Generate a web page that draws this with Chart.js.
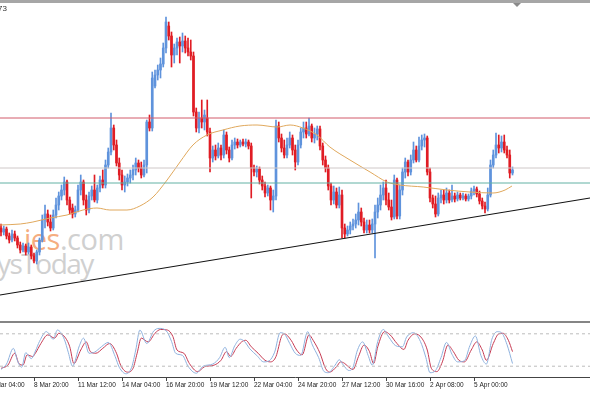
<!DOCTYPE html>
<html>
<head>
<meta charset="utf-8">
<script src="https://cdn.jsdelivr.net/npm/chart.js@4.4.1/dist/chart.umd.min.js"></script>
<style>
  body { margin: 0; background: #fff; width: 590px; height: 393px; overflow: hidden; position: relative; }
  canvas { position: absolute; left: 0; display: block; z-index: 1; }
  #price { top: 0; }
  #stoch { top: 323px; }
  .frame-top { position: absolute; left: 0; top: 0; width: 590px; height: 3px; background: #a6a6a6; z-index: 3; }
  .separator { position: absolute; left: 0; top: 321px; width: 590px; height: 2px; background: #858585; z-index: 3; }
  .shift-mark { position: absolute; left: 513px; top: 3px; width: 0; height: 0; border-left: 4px solid transparent; border-right: 4px solid transparent; border-top: 4px solid #8a8a8a; z-index: 3; }
  .corner { position: absolute; left: -2px; top: 4px; font: 8px "Liberation Sans", sans-serif; color: #333; z-index: 3; }
  .mark { position: absolute; font-family: "Open Sans", Lato, sans-serif; font-weight: 400; font-size: 29px; line-height: 1; color: #d0d0d0; white-space: nowrap; letter-spacing: -0.5px; z-index: 0; }
  .mark .orange { color: #f5ad80; }
  .mark.second { font-size: 28px; letter-spacing: -1.5px; }
</style>
</head>
<body>
<div class="frame-top"></div>
<div class="shift-mark"></div>
<div class="corner">73</div>
<div class="mark" style="left:24px; top:224px;"><span class="orange">ies</span>.com</div>
<div class="mark second" style="left:-3px; top:249px;">ysToday</div>
<canvas id="price" width="590" height="321"></canvas>
<div class="separator"></div>
<canvas id="stoch" width="590" height="70"></canvas>
<script>
"use strict";

// H4 candles, one entry per bar (bar index = position in the array)
const openPrices = [
  1492,1488,1491,1484,1480,1486,1482,1475,1470,1474,
  1468,1473,1464,1459,1468,1480,1500,1506,1498,1492,
  1505,1515,1524,1530,1538,1520,1512,1506,1510,1530,
  1538,1520,1510,1524,1530,1520,1532,1540,1535,1555,
  1568,1592,1575,1557,1545,1535,1538,1542,1545,1550,
  1557,1552,1545,1555,1598,1592,1634,1645,1650,1656,
  1672,1694,1684,1665,1672,1678,1674,1679,1672,1668,
  1664,1608,1592,1602,1598,1602,1588,1562,1570,1564,
  1572,1565,1585,1570,1562,1575,1578,1575,1578,1576,
  1578,1574,1552,1548,1551,1540,1534,1527,1532,1520,
  1524,1594,1582,1572,1565,1575,1582,1570,1558,1575,
  1588,1592,1586,1594,1582,1586,1591,1574,1560,1552,
  1534,1520,1528,1515,1525,1492,1486,1490,1494,1496,
  1500,1508,1498,1490,1495,1490,1496,1508,1515,1525,
  1532,1520,1513,1503,1540,1504,1530,1548,1558,1548,
  1560,1570,1560,1574,1580,1582,1548,1522,1516,1506,
  1522,1525,1520,1527,1520,1524,1521,1525,1522,1524,
  1521,1524,1529,1531,1526,1519,1514,1511,1525,1555,
  1565,1575,1572,1578,1570,1565,1547
];
const highPrices = [
  1496,1494,1493,1487,1490,1489,1484,1478,1477,1476,
  1477,1475,1467,1470,1482,1505,1515,1510,1505,1510,
  1522,1528,1535,1543,1540,1523,1516,1514,1535,1545,
  1540,1525,1528,1534,1545,1535,1544,1550,1560,1572,
  1607,1595,1580,1562,1550,1544,1546,1550,1555,1562,
  1560,1558,1560,1600,1605,1648,1650,1655,1662,1677,
  1703,1698,1688,1676,1682,1683,1687,1684,1682,1680,
  1668,1612,1608,1620,1610,1620,1592,1574,1575,1577,
  1575,1590,1588,1573,1580,1582,1581,1580,1581,1581,
  1580,1577,1555,1554,1553,1544,1538,1535,1534,1530,
  1600,1598,1586,1580,1582,1588,1585,1575,1580,1592,
  1598,1598,1602,1596,1592,1594,1594,1577,1564,1555,
  1537,1534,1532,1533,1530,1496,1494,1498,1501,1506,
  1517,1512,1502,1500,1500,1501,1515,1522,1535,1538,
  1540,1527,1520,1545,1542,1535,1552,1562,1560,1565,
  1578,1574,1583,1585,1586,1584,1552,1525,1524,1527,
  1530,1530,1532,1530,1535,1527,1528,1527,1527,1526,
  1526,1532,1534,1533,1529,1522,1518,1532,1560,1570,
  1587,1585,1584,1585,1574,1570,1553
];
const lowPrices = [
  1484,1485,1481,1477,1478,1479,1472,1467,1468,1465,
  1466,1461,1457,1456,1465,1478,1492,1494,1489,1490,
  1502,1510,1520,1525,1515,1506,1502,1503,1508,1525,
  1515,1505,1507,1520,1518,1517,1528,1532,1532,1552,
  1565,1570,1554,1540,1530,1528,1534,1537,1540,1545,
  1548,1542,1543,1547,1589,1589,1632,1640,1642,1653,
  1667,1680,1653,1657,1665,1657,1668,1667,1664,1660,
  1604,1588,1587,1592,1590,1584,1548,1558,1560,1562,
  1560,1562,1566,1558,1560,1571,1572,1573,1574,1573,
  1571,1522,1544,1543,1536,1530,1523,1524,1510,1508,
  1520,1578,1568,1562,1562,1572,1565,1550,1555,1572,
  1582,1582,1584,1578,1577,1580,1570,1555,1548,1530,
  1515,1516,1512,1512,1482,1482,1484,1486,1490,1492,
  1495,1494,1487,1487,1487,1487,1462,1502,1510,1520,
  1515,1510,1500,1501,1501,1501,1525,1542,1544,1545,
  1557,1558,1558,1570,1573,1545,1518,1512,1503,1504,
  1517,1516,1517,1517,1518,1518,1519,1520,1520,1519,
  1519,1521,1525,1523,1516,1511,1507,1509,1523,1552,
  1562,1567,1568,1567,1562,1542,1545
];
const closePrices = [
  1488,1491,1484,1480,1486,1482,1475,1470,1474,1468,
  1473,1464,1459,1468,1480,1500,1506,1498,1492,1505,
  1515,1524,1530,1538,1520,1510,1506,1510,1530,1538,
  1520,1510,1524,1530,1520,1532,1540,1535,1555,1568,
  1592,1575,1557,1545,1535,1538,1542,1545,1550,1557,
  1552,1545,1555,1598,1592,1642,1645,1650,1656,1672,
  1698,1684,1665,1672,1678,1674,1679,1672,1668,1664,
  1608,1592,1602,1598,1605,1588,1562,1570,1564,1572,
  1565,1585,1570,1562,1575,1578,1575,1578,1576,1578,
  1574,1552,1548,1551,1540,1534,1527,1532,1520,1524,
  1594,1582,1572,1565,1575,1582,1570,1558,1575,1588,
  1592,1586,1594,1582,1586,1591,1574,1560,1552,1534,
  1520,1528,1515,1525,1492,1486,1490,1494,1496,1500,
  1508,1498,1490,1495,1490,1496,1508,1515,1525,1532,
  1520,1513,1503,1540,1504,1530,1548,1558,1548,1560,
  1570,1560,1574,1580,1582,1548,1522,1516,1506,1522,
  1525,1520,1527,1520,1524,1521,1525,1522,1524,1521,
  1524,1529,1531,1526,1519,1514,1511,1525,1555,1565,
  1575,1572,1578,1570,1565,1547,1550
];

// moving average, read at points along the curve
const maBars   = [-0.4, 7, 11.6, 17.8, 24, 29.8, 34.9, 39.6, 45.8, 50.5, 55.3, 60.4, 65.1, 69.8, 74.9, 80.7, 86.9, 93.1, 100.4, 105.1, 109.8, 114.9, 119.6, 126.9, 134.2, 140.4, 145.1, 153.5, 162.2, 170.5, 178.9, 183.3, 185.8];
const maPrices = [1495, 1496, 1498, 1502, 1505, 1510, 1512, 1510, 1510, 1514, 1523, 1540, 1558, 1575, 1585, 1590, 1594, 1595, 1593, 1595, 1592, 1585, 1573, 1560, 1548, 1538, 1535, 1533, 1530, 1528, 1527, 1530, 1534];

// horizontal levels and support trendline
const levelPrices = [1602, 1552, 1537];
const trendBars = [-0.4, 214.2];
const trendPrices = [1425, 1522];

// stochastic oscillator
const kBars   = [0,2,4.5,6,7.5,9,11,12.5,14,16.5,19,20.5,23,24.5,26,28.5,30,32,34,36.5,39,41.5,43,45.5,47.5,49,50.5,53,55.5,57.5,60,62,63.5,66,68,71,73.5,77,79.5,81.5,83,85,87,88.5,90.5,93,95.5,97.5,99.5,101.5,103,105,107,109,111.5,113,115.5,117.5,119,121.5,123,124.5,126.5,128,129.5,131.5,133.5,135,137,139,141,143.5,146,147.5,150,152.5,154.5,156,158,160,162,164,166,168.5,170.5,172.5,174.5,176.5,178.5,180.5,182,184,186];
const kValues = [14,24,53,30,18,45,34,48,66,84,70,87,70,45,20,58,72,44,46,56,64,38,18,6,18,50,87,62,85,90,86,66,44,40,20,7,20,24,36,55,36,58,70,66,52,40,28,30,46,82,80,62,44,40,84,62,36,10,8,22,32,22,12,18,48,65,40,22,66,88,74,58,56,74,82,66,36,8,12,36,64,42,28,30,58,76,40,24,70,84,82,60,25];
const dBars   = [0,2.5,5,6.5,8,9.5,11.5,12.5,14.5,17,19.5,21,23.5,25,26.5,29,31,32.5,34.5,37,39.5,42,43.5,46,48,49.5,51,53.5,56,58,60.5,62.5,64,66.5,68.5,71.5,74,77.5,80,82,83.5,85.5,87.5,89,91,93.5,96,98,100,102,103,105.5,107.5,109.5,112,113.5,116,118,119.5,122,123.5,125,127,128,130,132,134,135.5,137,139.5,141.5,144,146.5,148,150.5,153,155,156.5,158.5,160.5,162.5,164.5,166.5,168.5,171,173,175,176.5,179,181,182.5,184.5,186];
const dValues = [16,22,44,25,22,41,38,44,62,78,72,81,72,56,25,50,65,47,44,53,62,44,22,9,16,44,72,65,81,88,87,75,50,44,25,10,19,22,31,47,38,53,65,68,56,44,31,28,38,75,80,68,50,41,78,68,44,16,9,19,28,25,16,14,38,59,47,25,56,84,78,62,51,68,80,72,50,16,10,28,59,47,31,28,50,65,50,31,62,80,81,68,47];
const stochLevels = [80, 20];

// time axis labels, one every 16 bars
const tickBars = [-4, 12, 28, 44, 60, 76, 92, 108, 124, 140, 156, 172];
const tickLabels = ["6 Mar 04:00", "8 Mar 20:00", "11 Mar 12:00", "14 Mar 04:00", "16 Mar 20:00", "19 Mar 12:00",
                    "22 Mar 04:00", "24 Mar 20:00", "27 Mar 12:00", "30 Mar 16:00", "2 Apr 08:00", "5 Apr 00:00"];

const xMin = -0.364;
const xMax = 214.18;
const upColor = "#5f93dc";
const downColor = "#e01c24";
const levelColors = ["#d25a6a", "#cfc8c8", "#62b1a4"];

const bars = closePrices.map((c, i) => i);
const candleColor = ctx => closePrices[ctx.dataIndex] >= openPrices[ctx.dataIndex] ? upColor : downColor;
const pairs = (xs, ys) => xs.map((x, i) => ({ x: x, y: ys[i] }));
const flatLine = (value) => [{ x: xMin, y: value }, { x: xMax, y: value }];

let priceDatasets = levelPrices.map((p, i) => ({
    type: "line", data: flatLine(p), borderColor: levelColors[i], borderWidth: 1, pointRadius: 0, order: 1
}));
priceDatasets.push({
    type: "line", data: pairs(trendBars, trendPrices), borderColor: "#111", borderWidth: 1.2, pointRadius: 0, order: 1
});
priceDatasets.push({
    type: "line", data: pairs(maBars, maPrices), borderColor: "#e0a85c", borderWidth: 1,
    pointRadius: 0, cubicInterpolationMode: "monotone", order: 2
});
priceDatasets.push({
    type: "bar", data: bars.map(i => ({ x: i, y: [lowPrices[i], highPrices[i]] })),
    backgroundColor: candleColor, barThickness: 1, grouped: false, borderWidth: 0, order: 4
});
priceDatasets.push({
    type: "bar", data: bars.map(i => ({ x: i, y: [openPrices[i], closePrices[i]] })),
    backgroundColor: candleColor, barThickness: 2, minBarLength: 1, grouped: false, borderWidth: 0, order: 3
});

Chart.defaults.font.family = "'Liberation Sans', Arial, sans-serif";

new Chart(document.getElementById("price"), {
    type: "bar",
    data: { datasets: priceDatasets },
    options: {
        responsive: false,
        animation: false,
        devicePixelRatio: 1,
        layout: { padding: 0 },
        plugins: { legend: { display: false }, tooltip: { enabled: false } },
        scales: {
            x: { type: "linear", min: xMin, max: xMax, offset: false, display: false },
            y: { min: 1399, max: 1720, display: false }
        }
    }
});

let stochDatasets = stochLevels.map(v => ({
    data: flatLine(v), borderColor: "#bdbdbd", borderWidth: 1, borderDash: [3, 3], pointRadius: 0
}));
stochDatasets.push({
    data: pairs(kBars, kValues), borderColor: "#8fb2de", borderWidth: 1, pointRadius: 0, cubicInterpolationMode: "monotone"
});
stochDatasets.push({
    data: pairs(dBars, dValues), borderColor: "#c63a52", borderWidth: 1, pointRadius: 0, cubicInterpolationMode: "monotone"
});

new Chart(document.getElementById("stoch"), {
    type: "line",
    data: { datasets: stochDatasets },
    options: {
        responsive: false,
        animation: false,
        devicePixelRatio: 1,
        layout: { padding: 0 },
        plugins: { legend: { display: false }, tooltip: { enabled: false } },
        scales: {
            x: {
                type: "linear", min: xMin, max: xMax, offset: false,
                afterBuildTicks: axis => { axis.ticks = tickBars.map(v => ({ value: v })); },
                // the first label hangs off the left edge, so keep the plot full width
                afterFit: axis => { axis.height = 16; axis.paddingLeft = 0; axis.paddingRight = 0; },
                grid: { drawOnChartArea: false, drawTicks: true, tickLength: 4, tickColor: "#444" },
                border: { display: true, color: "#444", width: 1 },
                ticks: {
                    autoSkip: false, maxRotation: 0, minRotation: 0, align: "start", padding: 0,
                    color: "#222", font: { size: 6.5 },
                    callback: v => tickLabels[tickBars.indexOf(v)]
                }
            },
            y: { min: 0, max: 100, display: false }
        }
    }
});
</script>
</body>
</html>
